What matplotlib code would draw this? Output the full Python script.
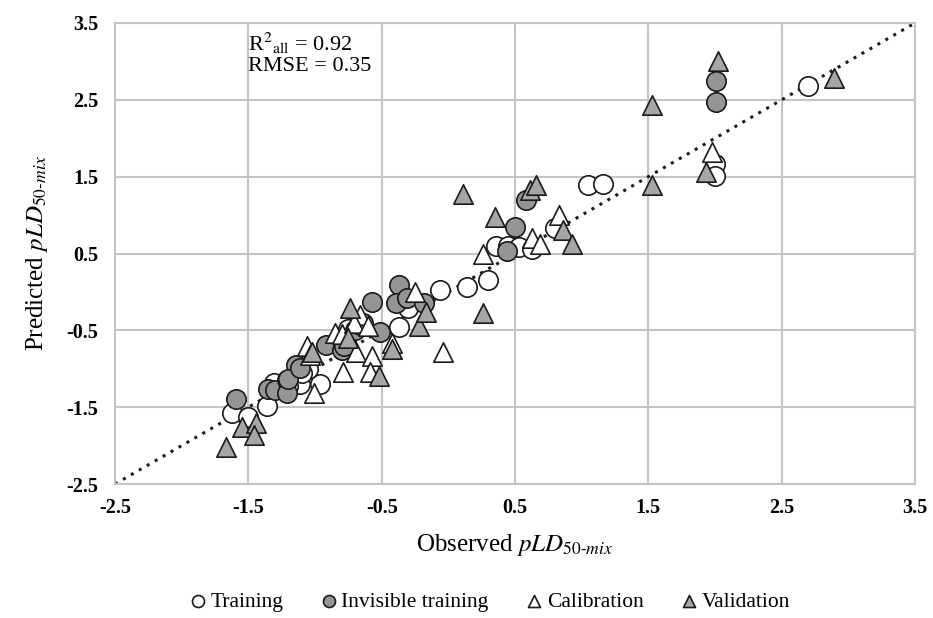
import matplotlib
matplotlib.use('Agg')
import matplotlib.pyplot as plt
import numpy as np

plt.rcParams['font.family'] = ['Liberation Serif', 'DejaVu Serif']
plt.rcParams['mathtext.fontset'] = 'stix'

# observed / predicted pairs for each set
train_x = [-1.62, -1.50, -1.36, -1.31, -1.11, -0.96, -1.05, -1.10, -1.20, -0.75, -0.66,
           -0.37, -0.30, -0.06, 0.14, 0.30, 0.36, 0.45, 0.53, 0.63, 0.80, 1.05, 1.16,
           2.00, 2.00, 2.70]
train_y = [-1.57, -1.63, -1.49, -1.19, -1.20, -1.20, -1.00, -1.05, -1.22, -0.48, -0.45,
           -0.46, -0.21, 0.03, 0.06, 0.15, 0.60, 0.60, 0.59, 0.56, 0.83, 1.39, 1.40,
           1.67, 1.51, 2.68]

invis_x = [-1.59, -1.35, -1.30, -1.21, -1.14, -1.21, -1.20, -1.11, -0.92, -0.80, -0.77,
           -0.78, -0.70, -0.66, -0.64, -0.57, -0.51, -0.37, -0.39, -0.31, -0.18, 0.44,
           0.50, 0.58, 2.01, 2.01]
invis_y = [-1.39, -1.26, -1.28, -1.15, -0.95, -1.32, -1.13, -0.99, -0.69, -0.76, -0.63,
           -0.70, -0.50, -0.43, -0.41, -0.13, -0.52, 0.09, -0.15, -0.08, -0.15, 0.53,
           0.84, 1.19, 2.74, 2.47]

calib_x = [-1.06, -1.04, -1.01, -0.85, -0.80, -0.66, -0.71, -0.60, -0.79, -0.69, -0.57,
           -0.59, -0.42, -0.25, -0.04, 0.26, 0.63, 0.69, 0.83, 1.98]
calib_y = [-0.71, -0.82, -1.32, -0.54, -0.55, -0.30, -0.41, -0.45, -1.04, -0.78, -0.84,
           -1.04, -0.67, 0.00, -0.78, 0.50, 0.70, 0.63, 1.00, 1.82]

valid_x = [-1.67, -1.55, -1.44, -1.46, -1.02, -0.75, -0.74, -0.52, -0.42, -0.22, -0.17,
           0.11, 0.35, 0.61, 0.66, 0.86, 0.93, 0.26, 1.53, 1.53, 1.93, 2.02, 2.89]
valid_y = [-2.02, -1.76, -1.71, -1.86, -0.78, -0.60, -0.21, -1.10, -0.74, -0.45, -0.26,
           1.28, 0.98, 1.33, 1.39, 0.80, 0.63, -0.28, 2.43, 1.39, 1.56, 3.00, 2.78]

ticks = np.arange(-2.5, 3.6, 1.0)

fig = plt.figure(figsize=(9.33, 6.18), dpi=100)
ax = fig.add_axes([0.1233, 0.2168, 0.8574, 0.746])

ax.plot([-2.5, 3.5], [-2.5, 3.5], color='#1a1a1a', linestyle=(0, (1, 2.0)),
        linewidth=2.2, zorder=1)

ms = 195
ax.scatter(train_x, train_y, s=ms, marker='o', facecolor='white',
           edgecolor='#1a1a1a', linewidth=1.2, zorder=3, label='Training')
ax.scatter(invis_x, invis_y, s=ms, marker='o', facecolor='#959595',
           edgecolor='#1a1a1a', linewidth=1.2, zorder=3, label='Invisible training')
ax.scatter(calib_x, calib_y, s=ms, marker='^', facecolor='white',
           edgecolor='#1a1a1a', linewidth=1.2, zorder=4, label='Calibration')
ax.scatter(valid_x, valid_y, s=ms, marker='^', facecolor='#a6a6a6',
           edgecolor='#1a1a1a', linewidth=1.2, zorder=4, label='Validation')

ax.set_xlim(-2.5, 3.5)
ax.set_ylim(-2.5, 3.5)
ax.set_xticks(ticks)
ax.set_yticks(ticks)
ax.set_xticklabels([f'{t:.1f}' for t in ticks], fontweight='bold', fontsize=14.5)
ax.set_yticklabels([f'{t:.1f}' for t in ticks], fontweight='bold', fontsize=14.5)
ax.tick_params(axis='x', length=0, pad=10)
ax.tick_params(axis='y', length=0, pad=12)

# grid
ax.set_axisbelow(True)
ax.grid(color='#c4c4c4', linewidth=1.5)
for s in ax.spines.values():
    s.set_color('#c4c4c4')
    s.set_linewidth(1.5)

ax.set_xlabel(r'Observed $\mathit{pLD}_{\mathit{50\text{-}mix}}$', fontsize=18, labelpad=10)
ax.set_ylabel(r'Predicted $\mathit{pLD}_{\mathit{50\text{-}mix}}$', fontsize=18, labelpad=12)

ax.text(-1.5, 3.40, 'R$^{2}$$_{\\mathrm{all}}$ = 0.92\nRMSE = 0.35', fontsize=16,
        va='top', ha='left', linespacing=1.05)

fig.legend(loc='center', bbox_to_anchor=(0.52, 0.026), ncol=4, frameon=False,
           fontsize=15.5, markerscale=0.62, handletextpad=-0.2, columnspacing=1.3,
           handlelength=1.6)

fig.savefig('out.png', dpi=100)
